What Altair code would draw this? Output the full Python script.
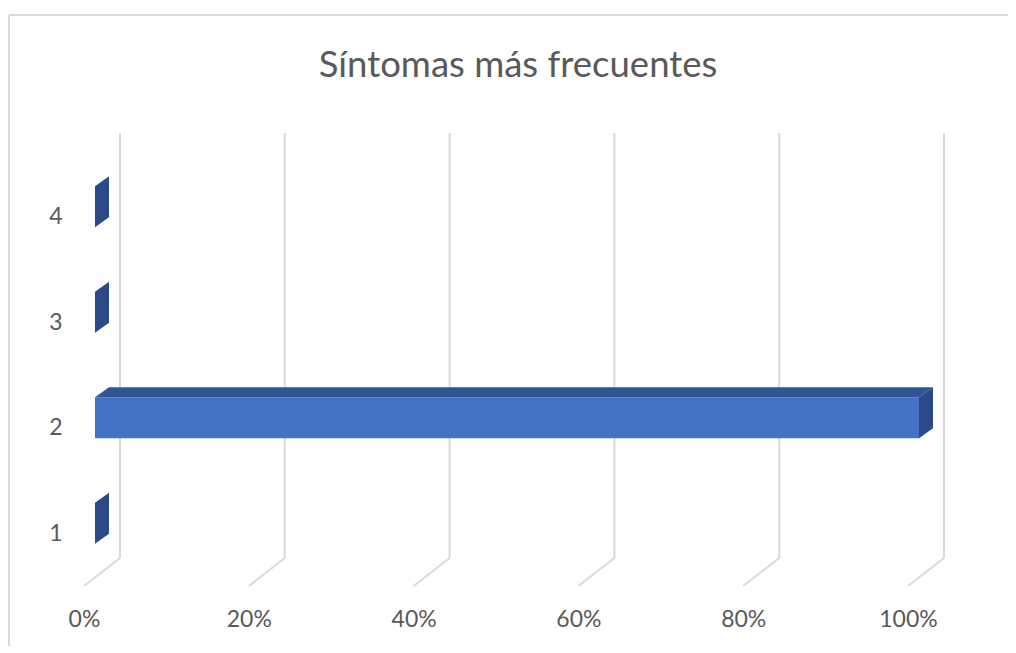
import altair as alt
import pandas as pd

# ---- data ----
categories = [1, 2, 3, 4]
values = [0.0, 1.0, 0.0, 0.0]          # share of cases per category
x_ticks = [0.0, 0.2, 0.4, 0.6, 0.8, 1.0]
title_text = "Síntomas más frecuentes"

# ---- style / geometry (pixels -> data units) ----
PLOT_W, PLOT_H = 824, 422
Y_DOMAIN = [0.5, 4.5]
PX_X = 1.0 / PLOT_W
PX_Y = (Y_DOMAIN[1] - Y_DOMAIN[0]) / PLOT_H
BAR_HALF = 20.5 * PX_Y
DEPTH_X = 14 * PX_X
DEPTH_Y = 10 * PX_Y
BAR_DX, BAR_DY = 11, -10          # bar placed inside the 3-D depth
WALL_DX, WALL_DY = 36, -28        # back wall offset

FRONT = "#4472C4"
TOP = "#2F5597"
SIDE = "#2A4A88"
GRID = "#D9D9D9"
TEXT = "#595959"
FONT = "Lato"

bars = pd.DataFrame({"cat": categories, "value": values})
bars["lo"] = bars["cat"] - BAR_HALF
bars["hi"] = bars["cat"] + BAR_HALF

top_rows, side_rows = [], []
for c, v in zip(categories, values):
    top_rows.append({"cat": c, "y": c + BAR_HALF, "x": 0.0, "x2": v})
    top_rows.append({"cat": c, "y": c + BAR_HALF + DEPTH_Y, "x": DEPTH_X, "x2": v + DEPTH_X})
    side_rows.append({"cat": c, "x": v, "y": c - BAR_HALF, "y2": c + BAR_HALF})
    side_rows.append({"cat": c, "x": v + DEPTH_X, "y": c - BAR_HALF + DEPTH_Y, "y2": c + BAR_HALF + DEPTH_Y})
top_df = pd.DataFrame(top_rows)
side_df = pd.DataFrame(side_rows)

grid_df = pd.DataFrame({"tick": x_ticks})
grid_df["y0"] = Y_DOMAIN[0]
grid_df["y1"] = Y_DOMAIN[1]

xs = alt.Scale(domain=[0, 1], nice=False, zero=False)
ys = alt.Scale(domain=Y_DOMAIN, nice=False, zero=False)

x_axis = alt.Axis(values=x_ticks, format=".0%", grid=False, domain=False, ticks=False,
                  labelPadding=22, labelFlush=False, title=None)
y_axis = alt.Axis(values=categories, format="d", grid=False, domain=False, ticks=False,
                  labelPadding=22, labelFlush=False, title=None)

floor = alt.Chart(grid_df).mark_rule(
    color=GRID, strokeWidth=2, x2Offset=WALL_DX, y2Offset=WALL_DY
).encode(
    x=alt.X("tick:Q", scale=xs, axis=x_axis, title=None),
    x2="tick:Q",
    y=alt.Y("y0:Q", scale=ys, axis=y_axis, title=None),
    y2="y0:Q",
)

wall = alt.Chart(grid_df).mark_rule(
    color=GRID, strokeWidth=2, xOffset=WALL_DX, yOffset=WALL_DY, y2Offset=WALL_DY - 3
).encode(
    x=alt.X("tick:Q", scale=xs, axis=x_axis, title=None),
    y=alt.Y("y0:Q", scale=ys, axis=y_axis, title=None),
    y2="y1:Q",
)

front = alt.Chart(bars).mark_bar(
    color=FRONT, xOffset=BAR_DX, x2Offset=BAR_DX, yOffset=BAR_DY, y2Offset=BAR_DY
).encode(
    x=alt.X("value:Q", scale=xs, axis=x_axis, stack=None, title=None),
    x2=alt.X2(datum=0),
    y=alt.Y("lo:Q", scale=ys, axis=y_axis, title=None),
    y2="hi:Q",
)

top = alt.Chart(top_df).mark_area(
    color=TOP, orient="horizontal", xOffset=BAR_DX, x2Offset=BAR_DX, yOffset=BAR_DY
).encode(
    y=alt.Y("y:Q", scale=ys, axis=y_axis, title=None),
    x=alt.X("x:Q", scale=xs, axis=x_axis, stack=None, title=None),
    x2="x2:Q",
    detail="cat:N",
)

side = alt.Chart(side_df).mark_area(
    color=SIDE, orient="vertical", xOffset=BAR_DX, yOffset=BAR_DY, y2Offset=BAR_DY
).encode(
    x=alt.X("x:Q", scale=xs, axis=x_axis, title=None),
    y=alt.Y("y:Q", scale=ys, axis=y_axis, stack=None, title=None),
    y2="y2:Q",
    detail="cat:N",
)

frame_src = alt.Data(values=[{"k": 1}])
frame_top = alt.Chart(frame_src).mark_rule(color=GRID, strokeWidth=2).encode(
    x=alt.value(-75), x2=alt.value(1000), y=alt.value(-149)
)
frame_left = alt.Chart(frame_src).mark_rule(color=GRID, strokeWidth=2).encode(
    x=alt.value(-75), y=alt.value(-149), y2=alt.value(600)
)

chart = alt.layer(
    floor, wall, front, top, side, frame_top, frame_left
).properties(
    width=PLOT_W,
    height=PLOT_H,
    title=alt.TitleParams(title_text, fontSize=36.5, font=FONT, color=TEXT,
                          fontWeight="normal", anchor="middle", dx=22, offset=-70),
    autosize=alt.AutoSizeParams(type="none"),
    padding={"left": 76, "top": 156, "right": 100, "bottom": 60},
).configure_view(stroke=None).configure_axis(
    labelFont=FONT, labelFontSize=23, labelColor=TEXT
)

chart.save("out.html", embed_options={"renderer": "svg", "actions": False})
